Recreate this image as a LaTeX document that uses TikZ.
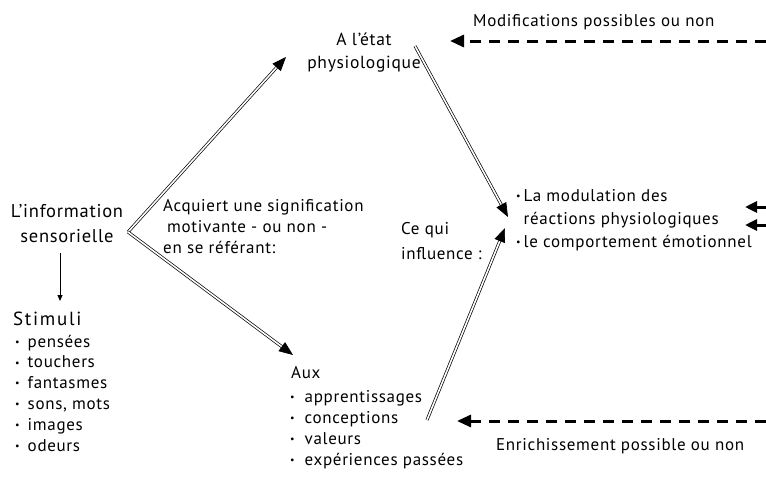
\documentclass[tikz,border=0pt]{standalone}
\usepackage{fontspec}
\setmainfont{PT Sans}[LetterSpace=4]
\usetikzlibrary{arrows.meta}

\newcommand\bul{\raisebox{1.8pt}{\fontsize{10}{10}\selectfont\textbullet}}

\tikzset{
  txt/.style={inner sep=0pt, align=left, font=\fontsize{17}{21}\selectfont},
  lst/.style={txt, font=\fontsize{17}{20.8}\selectfont},
  dbl/.style={double, double distance=1.6pt, line width=0.7pt, -{Triangle[length=14pt,width=11pt]}},
  dsh/.style={line width=3pt, dash pattern=on 11pt off 8pt, -{Triangle[length=14pt,width=12pt]}},
  sml/.style={line width=3pt, -{Triangle[length=12pt,width=11pt]}},
}

\begin{document}
\begin{tikzpicture}[x=1pt,y=-1pt]
  \useasboundingbox (0,0) rectangle (766,479);

  % texts (multi-line nodes sit on the baseline of their last line)
  \node[txt, align=center, font=\fontsize{18.5}{25}\selectfont, anchor=base] (info) at (67,242) {L’information\\sensorielle};
  \node[txt, align=center, font=\fontsize{17.5}{23}\selectfont, anchor=base] (etat) at (364,68) {A l’état\\physiologique};
  \node[txt, anchor=base west] (acq) at (163,253) {Acquiert une signification\\\hspace{4pt}motivante - ou non -\\en se référant:};
  \node[txt, anchor=base west, font=\fontsize{17}{25}\selectfont] (cequi) at (401,259) {Ce qui\\influence :};
  \node[txt, anchor=base west, font=\fontsize{17}{23}\selectfont] (effet) at (516,247)
    {\bul\hspace{3pt}La modulation des\\\phantom{\bul\hspace{3pt}}réactions physiologiques\\\bul\hspace{3pt}le comportement émotionnel};
  \node[txt, anchor=base west] (modif) at (473,27) {Modifications possibles ou non};
  \node[txt, anchor=base west] (enrich) at (496,450) {Enrichissement possible ou non};

  \node[txt, anchor=base west, font=\fontsize{19}{25}\selectfont\addfontfeature{LetterSpace=9}] (stim) at (13,325) {Stimuli};
  \node[lst, anchor=base west] (stimlist) at (15,451)
    {\bul\hspace{8pt}pensées\\\bul\hspace{8pt}touchers\\\bul\hspace{8pt}fantasmes\\\bul\hspace{8pt}sons, mots\\\bul\hspace{8pt}images\\\bul\hspace{8pt}odeurs};

  \node[txt, anchor=base west] (aux) at (291,378) {Aux};
  \node[lst, anchor=base west, font=\fontsize{17}{21}\selectfont] (auxlist) at (290,465)
    {\bul\hspace{10pt}apprentissages\\\bul\hspace{10pt}conceptions\\\bul\hspace{10pt}valeurs\\\bul\hspace{10pt}expériences passées};

  % arrow ends
  \coordinate (vtx) at (128,232);
  \coordinate (upTip) at (286,57);
  \coordinate (dnTip) at (293,355);
  \coordinate (etatOut) at (415,46);
  \coordinate (midTipA) at (508,217);
  \coordinate (auxOut) at (427,420);
  \coordinate (midTipB) at (505,228);
  \coordinate (infoOut) at (60,253);
  \coordinate (stimIn) at (60,301);
  \coordinate (topR) at (766,41);
  \coordinate (topTip) at (450,41);
  \coordinate (botR) at (766,421);
  \coordinate (botTip) at (457,421);
  \coordinate (rA) at (766,207);
  \coordinate (rAtip) at (745,207);
  \coordinate (rB) at (766,225);
  \coordinate (rBtip) at (745,225);

  % connectors
  \draw[dbl] (vtx) -- (upTip);
  \draw[dbl] (vtx) -- (dnTip);
  \draw[dbl] (etatOut) -- (midTipA);
  \draw[dbl] (auxOut) -- (midTipB);
  \draw[line width=0.8pt, -{Triangle[length=6pt,width=5pt]}] (infoOut) -- (stimIn);
  \draw[dsh] (topR) -- (topTip);
  \draw[dsh] (botR) -- (botTip);
  \draw[sml] (rA) -- (rAtip);
  \draw[sml] (rB) -- (rBtip);
\end{tikzpicture}
\end{document}
